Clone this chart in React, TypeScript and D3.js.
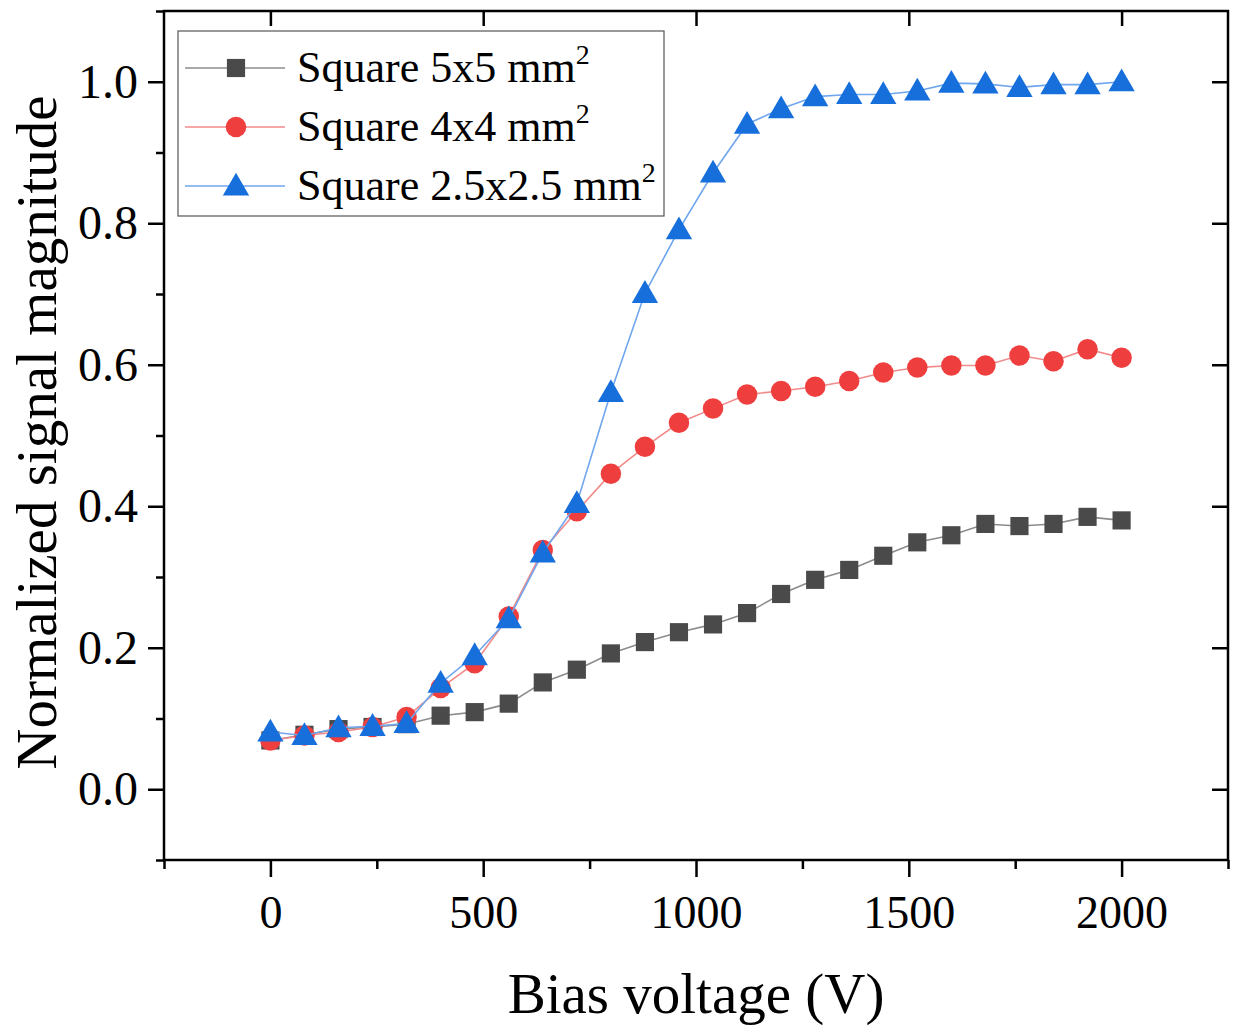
import React, { useEffect, useRef } from 'react';
import * as d3 from 'd3';

// bias voltage steps (V)
const voltages = [0, 80, 160, 240, 320, 400, 480, 560, 640, 720, 800, 880, 960, 1040, 1120, 1200, 1280, 1360, 1440, 1520, 1600, 1680, 1760, 1840, 1920, 2000];

const square5 = [0.069, 0.077, 0.085, 0.088, 0.092, 0.104, 0.109, 0.121, 0.151, 0.169, 0.192, 0.208, 0.222, 0.233, 0.249, 0.276, 0.296, 0.310, 0.330, 0.349, 0.359, 0.375, 0.372, 0.375, 0.385, 0.380];
const square4 = [0.069, 0.076, 0.081, 0.088, 0.102, 0.143, 0.178, 0.244, 0.338, 0.393, 0.446, 0.484, 0.518, 0.538, 0.558, 0.563, 0.569, 0.577, 0.589, 0.596, 0.599, 0.599, 0.613, 0.605, 0.622, 0.610];
const square25 = [0.081, 0.076, 0.087, 0.089, 0.093, 0.150, 0.189, 0.241, 0.334, 0.404, 0.561, 0.701, 0.791, 0.871, 0.940, 0.962, 0.979, 0.982, 0.982, 0.987, 0.998, 0.997, 0.992, 0.996, 0.996, 1.0];

const seriesNames = ['Square 5x5 mm', 'Square 4x4 mm', 'Square 2.5x2.5 mm'];
const xTicks = [0, 500, 1000, 1500, 2000];
const yTicks = [0, 0.2, 0.4, 0.6, 0.8, 1.0];

const FONT = '"Liberation Serif", "Times New Roman", serif';

const App = () => {
    const ref = useRef(null);

    useEffect(() => {
        document.body.style.margin = '0';
        const width = 1235;
        const height = 1026;
        const left = 164, right = 1228, top = 11, bottom = 860;

        const root = d3.select(ref.current);
        root.selectAll('*').remove();
        const svg = root.append('svg').attr('width', width).attr('height', height)
            .style('display', 'block').style('background', '#fff');

        const x = d3.scaleLinear().domain([-250, 2250]).range([left, right]);
        const y = d3.scaleLinear().domain([-0.1, 1.1]).range([bottom, top]);

        const series = [
            { name: seriesNames[0], values: square5, fill: '#4a4a4a', line: '#8c8c8c', shape: 'square' },
            { name: seriesNames[1], values: square4, fill: '#ef3e3e', line: '#f28a8a', shape: 'circle' },
            { name: seriesNames[2], values: square25, fill: '#176fdc', line: '#6fa6ee', shape: 'triangle' },
        ];

        const symbolFor = (shape) => {
            if (shape === 'square') return d3.symbol().type(d3.symbolSquare).size(330)();
            if (shape === 'circle') return d3.symbol().type(d3.symbolCircle).size(330)();
            return d3.symbol().type(d3.symbolTriangle).size(300)();
        };

        const line = d3.line().x((d) => x(d[0])).y((d) => y(d[1]));

        series.forEach((s) => {
            const pts = voltages.map((v, i) => [v, s.values[i]]);
            svg.append('path').attr('d', line(pts)).attr('fill', 'none')
                .attr('stroke', s.line).attr('stroke-width', 1.6);
            svg.append('g').selectAll('path').data(pts).enter().append('path')
                .attr('d', symbolFor(s.shape))
                .attr('transform', (d) => `translate(${x(d[0])},${y(d[1]) + (s.shape === 'triangle' ? 2 : 0)})`)
                .attr('fill', s.fill);
        });

        // frame
        svg.append('rect').attr('x', left).attr('y', top).attr('width', right - left).attr('height', bottom - top)
            .attr('fill', 'none').attr('stroke', '#000').attr('stroke-width', 2.5);

        // bottom axis (outward ticks, minor every 250)
        const xAxis = d3.axisBottom(x).tickValues(xTicks).tickSize(17).tickPadding(18).tickFormat(d3.format('d'));
        const gx = svg.append('g').attr('transform', `translate(0,${bottom})`).call(xAxis);
        gx.select('.domain').remove();
        gx.selectAll('line').attr('stroke-width', 2.5);
        gx.selectAll('text').attr('font-family', FONT).attr('font-size', 46).attr('fill', '#000');
        svg.append('g').attr('transform', `translate(0,${bottom})`)
            .call(d3.axisBottom(x).tickValues(d3.range(-250, 2251, 500)).tickSize(9).tickFormat(() => ''))
            .call((g) => g.select('.domain').remove())
            .selectAll('line').attr('stroke-width', 2.5);

        // top axis (inward, majors only)
        svg.append('g').attr('transform', `translate(0,${top})`)
            .call(d3.axisBottom(x).tickValues(xTicks).tickSize(15).tickFormat(() => ''))
            .call((g) => g.select('.domain').remove())
            .selectAll('line').attr('stroke-width', 2.5);

        // left axis
        const gy = svg.append('g').attr('transform', `translate(${left},0)`)
            .call(d3.axisLeft(y).tickValues(yTicks).tickSize(16).tickPadding(10).tickFormat(d3.format('.1f')));
        gy.select('.domain').remove();
        gy.selectAll('line').attr('stroke-width', 2.5);
        gy.selectAll('text').attr('font-family', FONT).attr('font-size', 48).attr('fill', '#000');
        svg.append('g').attr('transform', `translate(${left},0)`)
            .call(d3.axisLeft(y).tickValues([-0.1, 0.1, 0.3, 0.5, 0.7, 0.9, 1.1]).tickSize(8).tickFormat(() => ''))
            .call((g) => g.select('.domain').remove())
            .selectAll('line').attr('stroke-width', 2.5);

        // right axis (inward, majors only)
        svg.append('g').attr('transform', `translate(${right},0)`)
            .call(d3.axisRight(y).tickValues(yTicks).tickSize(-16).tickFormat(() => ''))
            .call((g) => g.select('.domain').remove())
            .selectAll('line').attr('stroke-width', 2.5);

        // axis titles
        svg.append('text').attr('x', (left + right) / 2).attr('y', 1013).attr('text-anchor', 'middle')
            .attr('font-family', FONT).attr('font-size', 57).text('Bias voltage (V)');
        svg.append('text').attr('transform', `translate(56,${(top + bottom) / 2 - 3}) rotate(-90)`)
            .attr('text-anchor', 'middle').attr('font-family', FONT).attr('font-size', 57)
            .text('Normalized signal magnitude');

        // legend
        const lg = svg.append('g');
        lg.append('rect').attr('x', 178).attr('y', 31).attr('width', 486).attr('height', 185)
            .attr('fill', '#fff').attr('stroke', '#555').attr('stroke-width', 1.2);
        series.forEach((s, i) => {
            const cy = 68 + i * 59;
            lg.append('line').attr('x1', 185).attr('x2', 285).attr('y1', cy).attr('y2', cy)
                .attr('stroke', s.line).attr('stroke-width', 1.6);
            lg.append('path').attr('d', symbolFor(s.shape))
                .attr('transform', `translate(236,${cy + (s.shape === 'triangle' ? 2 : 0)})`).attr('fill', s.fill);
            const t = lg.append('text').attr('x', 297).attr('y', cy + 14)
                .attr('font-family', FONT).attr('font-size', 44).attr('fill', '#000');
            t.append('tspan').text(s.name);
            t.append('tspan').attr('dy', -18).attr('font-size', 28).text('2');
        });
    }, []);

    return <div ref={ref}></div>;
};

export default App;
